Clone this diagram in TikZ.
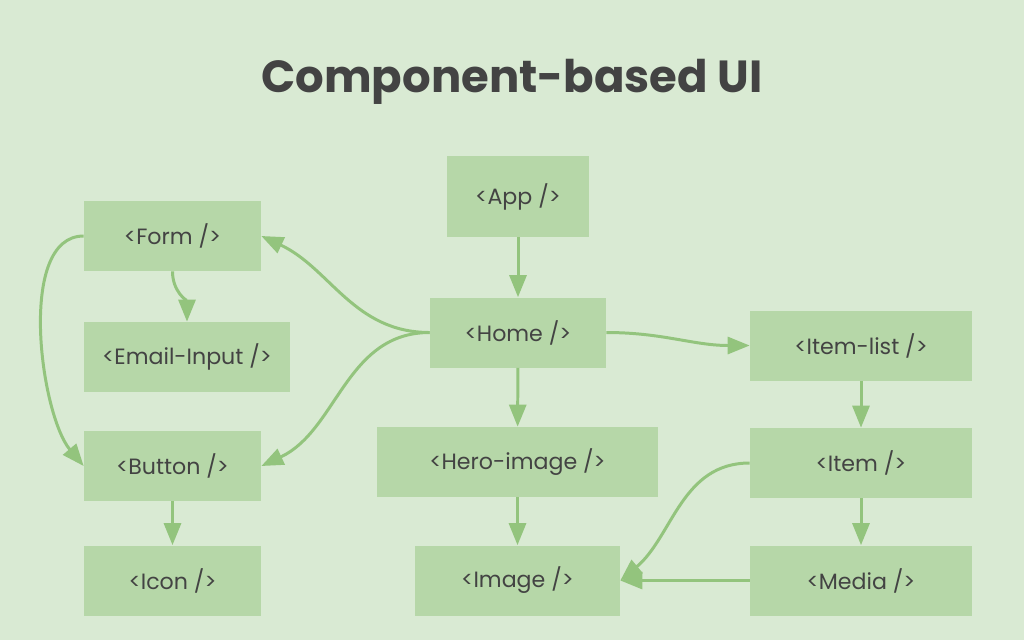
\documentclass[tikz,border=0pt]{standalone}
\usepackage{fontspec}
\setmainfont{Poppins}
\usetikzlibrary{positioning, arrows.meta}

\definecolor{bggreen}{HTML}{D9EAD3}
\definecolor{boxgreen}{HTML}{B6D7A8}
\definecolor{linegreen}{HTML}{93C47D}
\definecolor{txtgray}{HTML}{434343}

\tikzset{
    comp/.style={fill=boxgreen, text=txtgray, rectangle, inner sep=0pt, minimum height=1.4cm, font=\fontsize{12.6}{14}\selectfont},
    link/.style={-{Triangle[length=0.44cm, width=0.34cm]}, line width=1.7pt, draw=linegreen},
}

\begin{document}
\begin{tikzpicture}[x=0.02cm, y=-0.02cm]
    \fill [bggreen] (0, 0) rectangle (1024, 640);
    \node (title) at (512, 82) [text=txtgray, font=\fontsize{25.6}{30}\selectfont\bfseries] {Component-based UI};

    \node (app) [comp, minimum width=2.84cm, minimum height=1.62cm] at (518, 196.5) {<App />};
    \node (home) [comp, minimum width=3.52cm] at (518, 332.5) {<Home />};
    \node (hero) [comp, minimum width=5.62cm] at (517.5, 462) {<Hero-image />};
    \node (image) [comp, minimum width=4.1cm] at (517.5, 580.5) {<Image />};

    \node (form) [comp, minimum width=3.54cm] at (172.5, 236) {<Form />};
    \node (email) [comp, minimum width=4.12cm] at (187, 357) {<Email-Input />};
    \node (button) [comp, minimum width=3.54cm] at (172.5, 466) {<Button />};
    \node (icon) [comp, minimum width=3.54cm] at (172.5, 580.5) {<Icon />};

    \node (itemlist) [comp, minimum width=4.44cm] at (861, 345.5) {<Item-list />};
    \node (item) [comp, minimum width=4.44cm] at (861, 463) {<Item />};
    \node (media) [comp, minimum width=4.44cm] at (861, 580.5) {<Media />};

    \draw [link] (app) -- (home);
    \draw [link] (home) -- (hero);
    \draw [link] (hero) -- (image);
    \draw [link] (home.west) to[out=180, in=-25] (form.east);
    \draw [link] (home.west) to[out=180, in=25] (button.east);
    \draw [link] (home.east) to[out=0, in=180] (itemlist.west);

    \draw [link] (form.south) to[out=-90, in=90] (email.north);
    \draw [link] (form.west) to[out=180, in=130, looseness=0.75] (button.west);
    \draw [link] (button) -- (icon);

    \draw [link] (itemlist) -- (item);
    \draw [link] (item) -- (media);
    \draw [link] (item.west) to[out=180, in=40] (image.east);
    \draw [link] (media) -- (image);
\end{tikzpicture}
\end{document}
